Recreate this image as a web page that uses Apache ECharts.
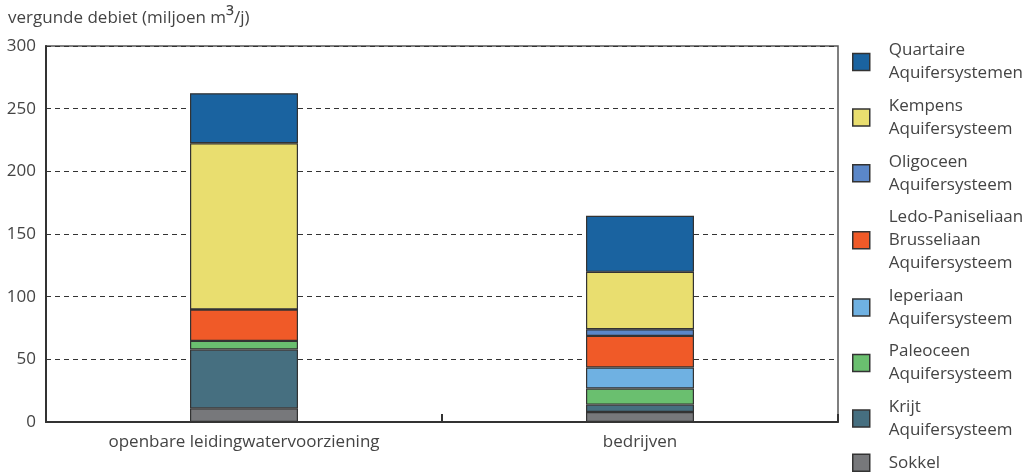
<!DOCTYPE html>
<html><head><meta charset="utf-8">
<script src="https://cdn.jsdelivr.net/npm/echarts@6/dist/echarts.min.js"></script>
<style>html,body{margin:0;padding:0;background:#fff}#c{width:1032px;height:476px}</style>
</head><body><div id="c"></div>
<script>
const categories = ['openbare leidingwatervoorziening', 'bedrijven'];
const seriesNames = ['Sokkel', 'Krijt Aquifersysteem', 'Paleoceen Aquifersysteem', 'Ieperiaan Aquifersysteem',
  'Ledo-Paniseliaan Brusseliaan Aquifersysteem', 'Oligoceen Aquifersysteem', 'Kempens Aquifersysteem', 'Quartaire Aquifersystemen'];
const legendLabels = ['Sokkel', 'Krijt\nAquifersysteem', 'Paleoceen\nAquifersysteem', 'Ieperiaan\nAquifersysteem',
  'Ledo-Paniseliaan\nBrusseliaan\nAquifersysteem', 'Oligoceen\nAquifersysteem', 'Kempens\nAquifersysteem', 'Quartaire\nAquifersystemen'];
const sokkel = [10.9, 8.0];
const krijt = [46.9, 5.9];
const paleoceen = [6.9, 12.8];
const ieperiaan = [0, 16.8];
const ledo = [25.1, 25.2];
const oligoceen = [0, 5.3];
const kempens = [132.6, 45.8];
const quartaire = [39.9, 44.7];
const yTicks = [0, 50, 100, 150, 200, 250, 300];

const values = [sokkel, krijt, paleoceen, ieperiaan, ledo, oligoceen, kempens, quartaire];
const colors = ['#77787b', '#466f80', '#6abf6f', '#6fb1e2', '#f05a28', '#5b87c8', '#e9de6f', '#1a63a0'];
const FONT = 'Open Sans';
const TXT = '#444';

const chart = echarts.init(document.getElementById('c'), null, {renderer: 'canvas'});
const labelMap = {};
seriesNames.forEach((n, i) => labelMap[n] = legendLabels[i]);

chart.setOption({
  animation: false,
  title: {
    left: 8, top: 6, padding: 0,
    text: '{a|vergunde debiet (miljoen m}{s|³}{a|/j)}',
    textStyle: {
      rich: {
        a: {fontFamily: FONT, fontSize: 17, color: TXT, fontWeight: 'normal', lineHeight: 24},
        s: {fontFamily: FONT, fontSize: 23, color: TXT, fontWeight: 'normal', lineHeight: 24}
      }
    }
  },
  legend: {
    orient: 'vertical',
    left: 852, top: 39, height: 436, padding: 0,
    itemWidth: 17, itemHeight: 17,
    itemGap: 9.6,
    icon: 'rect',
    data: seriesNames.slice().reverse(),
    formatter: n => labelMap[n],
    textStyle: {fontFamily: FONT, fontSize: 17, color: TXT, lineHeight: 23, padding: [0, 0, 0, 14]},
    itemStyle: {borderColor: '#333', borderWidth: 1.5}
  },
  grid: {left: 46, right: 194, top: 46, bottom: 54, show: true, borderColor: '#555', borderWidth: 1.5},
  xAxis: {
    type: 'category', data: categories,
    axisLine: {lineStyle: {color: '#333', width: 2}},
    axisTick: {show: true, inside: true, length: 8, lineStyle: {color: '#333', width: 2}},
    axisLabel: {fontFamily: FONT, fontSize: 17, color: TXT, margin: 12}
  },
  yAxis: {
    type: 'value', min: 0, max: 300, interval: 50,
    axisLine: {show: true, lineStyle: {color: '#333', width: 2}},
    axisTick: {show: false},
    axisLabel: {fontFamily: FONT, fontSize: 17, color: TXT, margin: 10, formatter: v => yTicks.includes(v) ? String(v) : ''},
    splitLine: {lineStyle: {color: '#333', type: [5, 4], width: 1}}
  },
  series: seriesNames.map((n, i) => ({
    name: n, type: 'bar', stack: 'total', barWidth: 108,
    data: values[i],
    itemStyle: {color: colors[i], borderColor: '#333', borderWidth: 1.2}
  }))
});
</script></body></html>
